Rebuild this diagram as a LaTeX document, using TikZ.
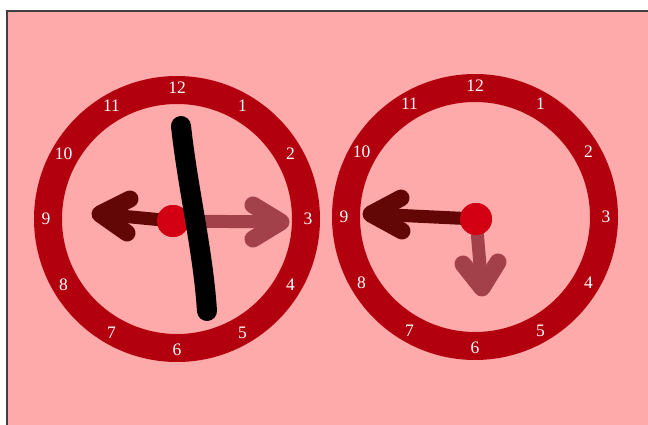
\documentclass[tikz,border=0pt]{standalone}
\usepackage{fontspec}
\setmainfont{Liberation Serif}
\usetikzlibrary{calc}
\definecolor{bgpink}{HTML}{FFAAAA}
\definecolor{ringred}{HTML}{B3000E}
\definecolor{dotred}{HTML}{D20012}
\definecolor{darkhand}{HTML}{620606}
\definecolor{lighthand}{HTML}{A3414B}
\tikzset{
  ring/.style={draw=ringred, line width=28pt},
  num/.style={text=white, font=\fontsize{17.5}{17.5}\selectfont, inner sep=0pt},
  hdot/.style={circle, fill=dotred, minimum size=32pt, inner sep=0pt},
  handshaft/.style={line width=13pt, line cap=round},
  handhead/.style={line width=17pt, line cap=round, line join=round},
  bigstroke/.style={line width=20pt, line cap=round, draw=black}
}
\begin{document}
\begin{tikzpicture}[x=1pt,y=-1pt]
\useasboundingbox (0,0) rectangle (648,425);
\fill[white] (0,0) rectangle (648,425);
\draw[fill=bgpink, draw=black!75, line width=2pt] (7,11) rectangle (660,440);

% ---------- left clock ----------
\coordinate (LC) at (177,219);
\draw[ring] (LC) circle[radius=129];
\foreach \n in {1,...,12}{
  \node[num] (Ln\n) at ($(LC)+({90-30*\n}:131 and -131)$) {\n};
}
% hands
\coordinate (LdTip) at (100,214);
\coordinate (LdW1) at (130,199);
\coordinate (LdW2) at (127,233);
\coordinate (LlTip) at (281,222);
\coordinate (LlW1) at (253,205);
\coordinate (LlW2) at (253,239);
\node[hdot] (Ldot) at (173,221) {};
\draw[handshaft, darkhand] (Ldot.center) -- (LdTip);
\draw[handhead, darkhand] (LdW1) -- (LdTip) -- (LdW2);
\draw[handshaft, lighthand] (Ldot.center) -- (LlTip);
\draw[handhead, lighthand] (LlW1) -- (LlTip) -- (LlW2);
\node[hdot] at (173,221) {};
\coordinate (Bk1) at (181,126);
\coordinate (Bk2) at (207,311);
\draw[bigstroke] (Bk1) .. controls (188,190) and (203,250) .. (Bk2);

% ---------- right clock ----------
\coordinate (RC) at (475,217);
\draw[ring] (RC) circle[radius=129];
\foreach \n in {1,...,12}{
  \node[num] (Rn\n) at ($(RC)+({90-30*\n}:131 and -131)$) {\n};
}
\coordinate (RdTip) at (371,214);
\coordinate (RdW1) at (401,198);
\coordinate (RdW2) at (402,231);
\coordinate (RlTip) at (482,288);
\coordinate (RlW1) at (463,264);
\coordinate (RlW2) at (498,262);
\node[hdot] (Rdot) at (476,219) {};
\draw[handshaft, darkhand] (Rdot.center) -- (RdTip);
\draw[handhead, darkhand] (RdW1) -- (RdTip) -- (RdW2);
\draw[handshaft, lighthand] (Rdot.center) -- (RlTip);
\draw[handhead, lighthand] (RlW1) -- (RlTip) -- (RlW2);
\node[hdot] at (476,219) {};
\end{tikzpicture}
\end{document}
